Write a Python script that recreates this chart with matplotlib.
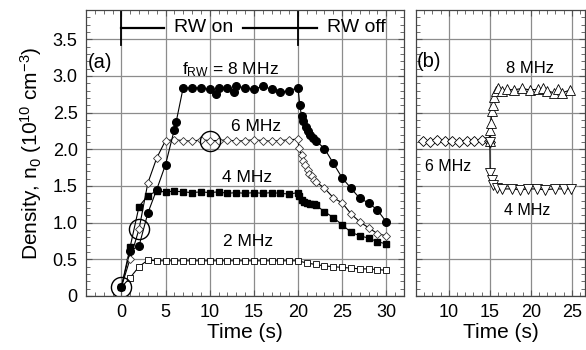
import matplotlib
matplotlib.use("Agg")
import matplotlib.pyplot as plt
from matplotlib.ticker import MultipleLocator, FuncFormatter

plt.rcParams['font.family'] = ['Liberation Sans', 'DejaVu Sans']
plt.rcParams['mathtext.default'] = 'regular'

# ---- panel (a) data: density vs time for each RW frequency ----
t8 = [0, 1, 2, 3, 4, 5, 6, 6.2, 7, 8, 9, 10, 10.7, 11, 12, 12.7, 13, 14, 15, 16,
      17, 18, 19, 20, 20.2, 20.4, 20.6, 20.9, 21.1, 21.4, 21.7, 22, 23, 24, 25,
      26, 27, 28, 29, 30]
n8 = [0.12, 0.62, 0.68, 1.13, 1.45, 1.79, 2.27, 2.37, 2.84, 2.84, 2.84, 2.82,
      2.76, 2.84, 2.84, 2.78, 2.86, 2.84, 2.82, 2.86, 2.82, 2.78, 2.80, 2.84,
      2.61, 2.45, 2.38, 2.30, 2.25, 2.20, 2.15, 2.12, 2.01, 1.81, 1.61, 1.47,
      1.33, 1.27, 1.17, 1.01]

t6 = [0, 1, 2, 3, 4, 5, 6, 7, 8, 9, 10, 11, 12, 13, 14, 15, 16, 17, 18, 19, 20,
      20.1, 20.4, 20.6, 20.8, 21.1, 21.3, 21.6, 21.8, 22, 23, 24, 25, 26, 27,
      28, 29, 30]
n6 = [0.12, 0.51, 0.91, 1.54, 1.88, 2.12, 2.13, 2.12, 2.11, 2.13, 2.12, 2.12,
      2.13, 2.11, 2.12, 2.13, 2.12, 2.11, 2.12, 2.13, 2.14,
      2.02, 1.92, 1.84, 1.78, 1.72, 1.67, 1.63, 1.58, 1.56, 1.47, 1.34, 1.27,
      1.12, 1.01, 0.93, 0.85, 0.82]

t4 = [0, 1, 2, 3, 4, 5, 6, 7, 8, 9, 10, 11, 12, 13, 14, 15, 16, 17, 18, 19, 20,
      20.1, 20.4, 20.7, 21, 21.4, 21.8, 22, 23, 24, 25, 26, 27, 28, 29, 30]
n4 = [0.12, 0.67, 1.22, 1.37, 1.43, 1.42, 1.43, 1.42, 1.41, 1.42, 1.41, 1.42,
      1.40, 1.41, 1.40, 1.41, 1.40, 1.41, 1.40, 1.39, 1.41,
      1.36, 1.31, 1.28, 1.27, 1.26, 1.25, 1.24, 1.15, 1.07, 0.97, 0.87, 0.82,
      0.79, 0.74, 0.71]

t2 = list(range(0, 31))
n2 = [0.12, 0.25, 0.40, 0.49, 0.48, 0.48, 0.48, 0.48, 0.48, 0.48, 0.48, 0.48,
      0.48, 0.48, 0.48, 0.48, 0.48, 0.48, 0.48, 0.48, 0.48,
      0.45, 0.43, 0.41, 0.40, 0.39, 0.38, 0.37, 0.37, 0.36, 0.35]

# highlighted points (big open circles)
t_hl = [0, 2, 10]
n_hl = [0.12, 0.91, 2.12]

# ---- panel (b) data: frequency switched at t = 15 s ----
tb6 = [6.8, 7.7, 8.6, 9.5, 10.4, 11.3, 12.2, 13.1, 14.0, 14.9, 15.0]
nb6 = [2.12, 2.10, 2.13, 2.11, 2.12, 2.10, 2.12, 2.11, 2.13, 2.12, 2.10]

tb8 = [15.0, 15.04, 15.12, 15.24, 15.37, 15.52, 15.77, 16.05, 16.5, 17.1, 17.9,
       18.9, 19.9, 20.9, 21.5, 22.0, 22.8, 23.3, 23.8, 24.8]
nb8 = [2.11, 2.27, 2.36, 2.52, 2.61, 2.72, 2.79, 2.84, 2.80, 2.82, 2.81, 2.83,
       2.81, 2.82, 2.84, 2.80, 2.77, 2.82, 2.77, 2.81]

tb4 = [15.0, 15.04, 15.24, 15.44, 15.85, 16.5, 17.7, 18.7, 19.7, 20.7, 21.7,
       22.9, 24.0, 24.9]
nb4 = [2.10, 1.68, 1.58, 1.52, 1.47, 1.46, 1.46, 1.45, 1.46, 1.46, 1.45, 1.46,
       1.46, 1.46]


def style_axes(ax):
    ax.set_ylim(0, 3.9)
    ax.yaxis.set_major_locator(MultipleLocator(0.5))
    ax.yaxis.set_minor_locator(MultipleLocator(0.1))
    ax.xaxis.set_major_locator(MultipleLocator(5))
    ax.xaxis.set_minor_locator(MultipleLocator(1))
    ax.grid(True, which='major', color='#8c8c8c', lw=0.9)
    ax.tick_params(which='both', direction='in', top=True, right=True,
                   labelsize=13)
    ax.tick_params(axis='y', pad=6)
    ax.tick_params(axis='x', pad=6)
    ax.tick_params(which='major', length=4, color='#555555')
    ax.tick_params(which='minor', length=3, color='#555555')
    for s in ax.spines.values():
        s.set_color('#444444')
        s.set_linewidth(0.9)


fig = plt.figure(figsize=(5.86, 3.5), dpi=100)
axa = fig.add_axes([86 / 586, 1 - 296 / 350, 318 / 586, 286 / 350])
axb = fig.add_axes([416 / 586, 1 - 296 / 350, 169 / 586, 286 / 350])

# panel (a)
style_axes(axa)
axa.set_xlim(-4, 32)
axa.yaxis.set_major_formatter(FuncFormatter(lambda v, p: '0' if v == 0 else '%.1f' % v))
axa.set_xticks([0, 5, 10, 15, 20, 25, 30])

lk = dict(color='black', lw=0.8)
axa.plot(t2, n2, marker='s', ms=4.8, mfc='white', mec='black', mew=0.6, **lk)
axa.plot(t4, n4, marker='s', ms=4.8, mfc='black', mec='black', **lk)
axa.plot(t6, n6, marker='D', ms=4.5, mfc='white', mec='#333333', mew=0.6, **lk)
axa.plot(t8, n8, marker='o', ms=5.5, mfc='black', mec='black', **lk)
axa.plot(t_hl, n_hl, ls='none', marker='o', ms=14.5, mfc='none', mec='black', mew=1.0)

# RW on / off bar
axa.plot([0, 0], [3.42, 3.9], color='black', lw=1.3)
axa.plot([20, 20], [3.42, 3.9], color='black', lw=1.3)
axa.plot([0, 4.8], [3.66, 3.66], color='black', lw=1.6)
axa.plot([13.8, 22.2], [3.66, 3.66], color='black', lw=1.6)
axa.text(9.3, 3.66, 'RW on', ha='center', va='center', fontsize=14)
axa.text(26.6, 3.66, 'RW off', ha='center', va='center', fontsize=14)

axa.text(-3.85, 3.18, '(a)', ha='left', va='center', fontsize=14.5)
axa.text(12.4, 3.09, 'f$_{RW}$ = 8 MHz', ha='center', va='center', fontsize=12.5)
axa.text(15.2, 2.31, '6 MHz', ha='center', va='center', fontsize=12.5)
axa.text(14.25, 1.61, '4 MHz', ha='center', va='center', fontsize=12.5)
axa.text(14.4, 0.74, '2 MHz', ha='center', va='center', fontsize=12.5)

axa.set_xlabel('Time (s)', fontsize=15, labelpad=1)
axa.set_ylabel('Density, n$_0$ (10$^{10}$ cm$^{-3}$)', fontsize=15, labelpad=6)

# panel (b)
style_axes(axb)
axb.set_xlim(6, 26.6)
axb.set_xticks([10, 15, 20, 25])
axb.tick_params(axis='y', labelleft=False)

axb.plot(tb6, nb6, marker='D', ms=5.2, mfc='white', mec='black', mew=0.6, **lk)
axb.plot(tb8, nb8, marker='^', ms=7.5, mfc='white', mec='black', mew=0.6, **lk)
axb.plot(tb4, nb4, marker='v', ms=7.5, mfc='white', mec='black', mew=0.6, **lk)

axb.text(6.1, 3.2, '(b)', ha='left', va='center', fontsize=14.5)
axb.text(19.9, 3.10, '8 MHz', ha='center', va='center', fontsize=12)
axb.text(9.95, 1.77, '6 MHz', ha='center', va='center', fontsize=11.5)
axb.text(19.5, 1.17, '4 MHz', ha='center', va='center', fontsize=11.5)
axb.set_xlabel('Time (s)', fontsize=15, labelpad=1)

fig.savefig('out.png', dpi=100)
